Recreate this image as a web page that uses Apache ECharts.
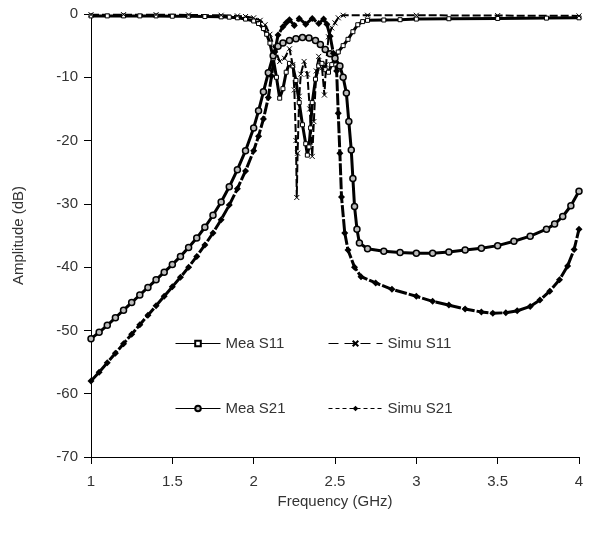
<!DOCTYPE html>
<html>
<head>
<meta charset="utf-8">
<script src="https://cdn.jsdelivr.net/npm/echarts@6/dist/echarts.min.js"></script>
<style>
  html, body { margin: 0; padding: 0; background: #fff; }
  #chart { width: 592px; height: 533px; }
</style>
</head>
<body>
<div id="chart"></div>
<script>
// frequency (GHz), amplitude (dB)
var meaS11 = [
  [1.0, -0.3], [1.1, -0.3], [1.2, -0.3], [1.3, -0.3], [1.4, -0.3], [1.5, -0.35], [1.6, -0.35],
  [1.7, -0.4], [1.8, -0.45], [1.85, -0.5], [1.9, -0.6], [1.95, -0.8], [2.0, -1.1], [2.03, -1.5],
  [2.06, -2.3], [2.08, -3.2], [2.1, -4.6], [2.12, -7], [2.14, -10], [2.16, -13.3], [2.18, -11.8],
  [2.2, -9.2], [2.22, -7.8], [2.24, -8.2], [2.26, -10.5], [2.28, -14], [2.3, -17.5], [2.32, -20.5],
  [2.33, -22.3], [2.34, -21], [2.35, -18], [2.36, -14], [2.38, -10.3], [2.4, -8.2], [2.42, -7.8],
  [2.44, -8.8], [2.46, -9.2], [2.48, -8], [2.5, -7], [2.52, -6], [2.55, -5], [2.58, -4],
  [2.61, -2.8], [2.64, -1.7], [2.67, -1.2], [2.7, -1.0], [2.8, -0.95], [2.9, -0.9], [3.0, -0.8],
  [3.2, -0.75], [3.5, -0.7], [3.8, -0.65], [4.0, -0.6]
];
var simuS11 = [
  [1.0, -0.1], [1.2, -0.1], [1.4, -0.1], [1.6, -0.15], [1.8, -0.2], [1.9, -0.3], [1.95, -0.4],
  [2.0, -0.6], [2.04, -1.0], [2.07, -1.7], [2.1, -3.2], [2.13, -5.5], [2.16, -7.5], [2.19, -7],
  [2.22, -5.5], [2.24, -8], [2.25, -12], [2.26, -20], [2.265, -29], [2.27, -22], [2.28, -13],
  [2.29, -9.5], [2.31, -7.5], [2.33, -9.5], [2.345, -15], [2.36, -22.5], [2.37, -17], [2.385, -9],
  [2.4, -6.7], [2.42, -8.5], [2.435, -12.8], [2.445, -8], [2.46, -3.6], [2.48, -2.2], [2.5, -1.4],
  [2.52, -0.6], [2.55, -0.2], [2.7, -0.2], [3.0, -0.2], [3.5, -0.25], [4.0, -0.3]
];
var meaS21 = [
  [1.0, -51.3], [1.05, -50.3], [1.1, -49.2], [1.15, -48], [1.2, -46.8], [1.25, -45.6], [1.3, -44.4],
  [1.35, -43.2], [1.4, -42], [1.45, -40.8], [1.5, -39.6], [1.55, -38.3], [1.6, -36.9], [1.65, -35.4],
  [1.7, -33.7], [1.75, -31.8], [1.8, -29.7], [1.85, -27.3], [1.9, -24.6], [1.95, -21.6], [2.0, -18],
  [2.03, -15.3], [2.06, -12.3], [2.09, -9.3], [2.12, -6.6], [2.15, -5.1], [2.18, -4.6], [2.22, -4.2],
  [2.26, -3.9], [2.3, -3.7], [2.34, -3.8], [2.38, -4.2], [2.41, -4.8], [2.44, -5.6], [2.47, -6.3],
  [2.5, -7], [2.53, -8.2], [2.55, -10], [2.57, -12.5], [2.585, -17], [2.6, -21.5], [2.61, -26],
  [2.62, -30.4], [2.635, -34], [2.65, -36.2], [2.7, -37.1], [2.8, -37.5], [2.9, -37.7], [3.0, -37.8],
  [3.1, -37.8], [3.2, -37.6], [3.3, -37.3], [3.4, -37], [3.5, -36.6], [3.6, -35.9], [3.7, -35.1],
  [3.8, -34], [3.85, -33.2], [3.9, -32], [3.95, -30.3], [4.0, -28]
];
var simuS21 = [
  [1.0, -58], [1.05, -56.6], [1.1, -55.1], [1.15, -53.6], [1.2, -52.1], [1.25, -50.6], [1.3, -49.1],
  [1.35, -47.6], [1.4, -46.1], [1.45, -44.6], [1.5, -43.1], [1.55, -41.6], [1.6, -40], [1.65, -38.3],
  [1.7, -36.5], [1.75, -34.6], [1.8, -32.5], [1.85, -30.2], [1.9, -27.6], [1.95, -24.8], [2.0, -21.6],
  [2.03, -19.3], [2.06, -16.6], [2.09, -13.2], [2.11, -9.8], [2.13, -6], [2.15, -3.3], [2.18, -2],
  [2.2, -1.4], [2.22, -0.9], [2.25, -1.8], [2.28, -0.7], [2.32, -1.6], [2.36, -0.7], [2.4, -1.5],
  [2.43, -0.8], [2.45, -1.6], [2.47, -3.5], [2.49, -6.2], [2.51, -9], [2.52, -15.7], [2.53, -22],
  [2.54, -28.9], [2.56, -34.6], [2.58, -37.3], [2.62, -40], [2.66, -41.5], [2.75, -42.5], [2.85, -43.5],
  [3.0, -44.6], [3.1, -45.4], [3.2, -46], [3.3, -46.6], [3.4, -47.1], [3.47, -47.3], [3.55, -47.2],
  [3.62, -46.9], [3.7, -46.2], [3.76, -45.2], [3.82, -43.8], [3.88, -42], [3.93, -39.8], [3.97, -37.2],
  [4.0, -34]
];

var font = 'Liberation Sans, Arial, sans-serif';
var textColor = '#333';
var crossSymbol = 'path://M0,0L10,10M10,0L0,10';

function legendAt(name, left, top, width, dash) {
  return {
    data: [name],
    left: left,
    top: top,
    itemWidth: width,
    itemHeight: 7,
    selectedMode: false,
    lineStyle: { width: 1, type: dash || 'solid' },
    textStyle: { fontSize: 15, color: textColor, fontFamily: font }
  };
}

var option = {
  animation: false,
  backgroundColor: '#fff',
  grid: { left: 91, right: 13, top: 14, bottom: 76 },
  legend: [
    legendAt('Mea S11', 170, 331, 45),
    legendAt('Simu S11', 323, 331, 54, [10, 6]),
    legendAt('Mea S21', 170, 396, 45),
    legendAt('Simu S21', 323, 396, 54, [4, 3])
  ],
  xAxis: {
    type: 'value',
    min: 1,
    max: 4,
    interval: 0.5,
    name: 'Frequency (GHz)',
    nameLocation: 'middle',
    nameGap: 32,
    nameTextStyle: { fontSize: 15, color: textColor, fontFamily: font },
    axisLine: { onZero: false, lineStyle: { color: '#000', width: 1 } },
    axisTick: { length: 7, lineStyle: { color: '#000' } },
    axisLabel: { margin: 17, fontSize: 15, color: textColor, fontFamily: font },
    splitLine: { show: false }
  },
  yAxis: {
    type: 'value',
    min: -70,
    max: 0,
    interval: 10,
    name: 'Amplitude (dB)',
    nameLocation: 'middle',
    nameGap: 65,
    nameTextStyle: { fontSize: 15, color: textColor, fontFamily: font },
    axisLine: { show: true, lineStyle: { color: '#000', width: 1 } },
    axisTick: { show: true, length: 7, lineStyle: { color: '#000' } },
    axisLabel: { margin: 13, fontSize: 15, color: textColor, fontFamily: font },
    splitLine: { show: false }
  },
  series: [
    {
      name: 'Mea S11',
      type: 'line',
      data: meaS11,
      symbol: 'rect',
      symbolSize: 4,
      lineStyle: { color: '#000', width: 3 },
      itemStyle: { color: '#fff', borderColor: '#000', borderWidth: 1 }
    },
    {
      name: 'Simu S11',
      type: 'line',
      data: simuS11,
      symbol: crossSymbol,
      symbolSize: 5,
      lineStyle: { color: '#000', width: 2, type: [8, 3] },
      itemStyle: { color: 'none', borderColor: '#000', borderWidth: 1 }
    },
    {
      name: 'Mea S21',
      type: 'line',
      data: meaS21,
      symbol: 'circle',
      symbolSize: 6,
      lineStyle: { color: '#000', width: 3 },
      itemStyle: { color: '#bbb', borderColor: '#000', borderWidth: 1.5 }
    },
    {
      name: 'Simu S21',
      type: 'line',
      data: simuS21,
      symbol: 'diamond',
      symbolSize: 7,
      lineStyle: { color: '#000', width: 3, type: [12, 2] },
      itemStyle: { color: '#000', borderColor: '#000', borderWidth: 0 }
    }
  ]
};

echarts.init(document.getElementById('chart')).setOption(option);
</script>
</body>
</html>
